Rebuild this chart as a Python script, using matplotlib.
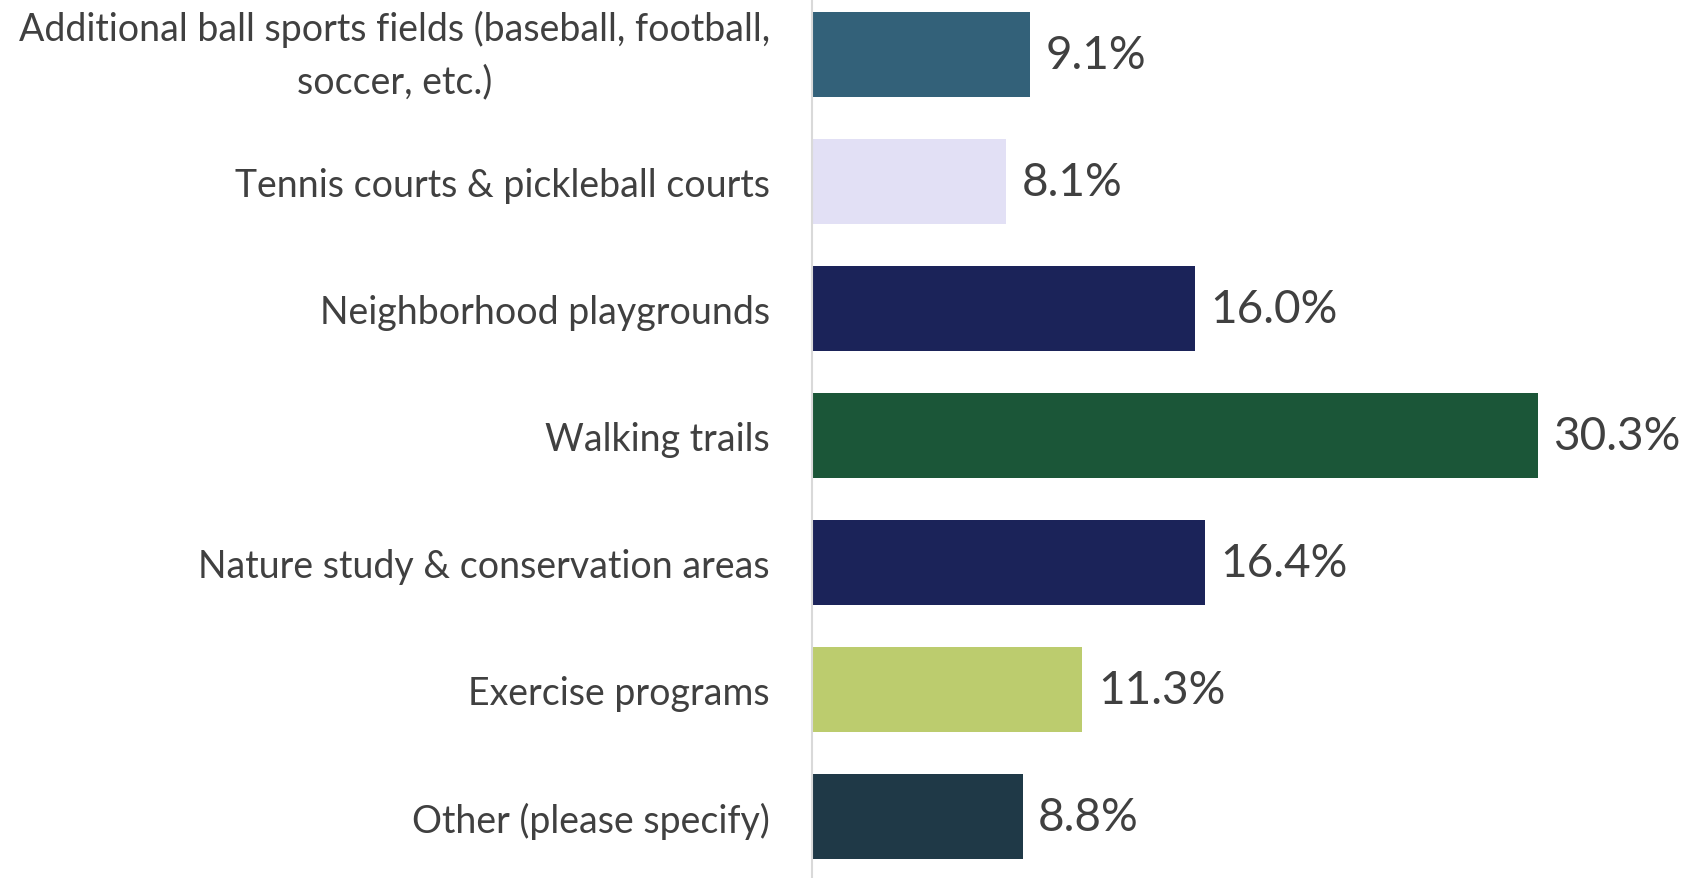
import matplotlib.pyplot as plt

categories = [
    "Additional ball sports fields (baseball, football,\nsoccer, etc.)",
    "Tennis courts & pickleball courts",
    "Neighborhood playgrounds",
    "Walking trails",
    "Nature study & conservation areas",
    "Exercise programs",
    "Other (please specify)",
]
values = [9.1, 8.1, 16.0, 30.3, 16.4, 11.3, 8.8]
colors = ["#336179", "#E2E0F5", "#1B2359", "#1B5638", "#1B2359", "#BCCC6E", "#1F3947"]

plt.rcParams['font.family'] = ['Lato', 'DejaVu Sans']

fig = plt.figure(figsize=(16.91, 8.79), dpi=100)
ax = fig.add_axes([0.480, 0, 0.520, 1])

pos = list(range(len(values)))
ax.barh(pos, values, height=0.67, color=colors)
ax.set_ylim(len(values) - 1 + 0.484, -0.437)
ax.set_xlim(0, 36.7)

for p, v in zip(pos, values):
    ax.text(v + 0.65, p, f"{v:.1f}%", va='center', ha='left', fontsize=33, color='#404040')

ax.set_yticks(pos)
ax.set_yticklabels(categories, fontsize=27, color='#404040', multialignment='center',
                   linespacing=1.55)
ax.tick_params(axis='y', length=0, pad=30)
ax.set_xticks([])
# two-line label sits a bit low with center_baseline
ax.get_yticklabels()[0].set_va('center')

for s in ['top', 'right', 'bottom']:
    ax.spines[s].set_visible(False)
ax.spines['left'].set_color('#D9D9D9')
ax.spines['left'].set_linewidth(1.5)

fig.savefig('out.png', dpi=100)
